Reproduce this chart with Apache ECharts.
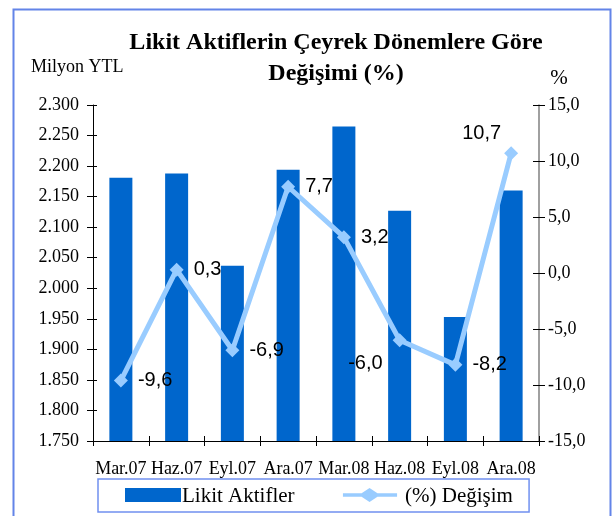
<!DOCTYPE html>
<html>
<head>
<meta charset="utf-8">
<script src="https://cdn.jsdelivr.net/npm/echarts@6/dist/echarts.min.js"></script>
<style>
html,body{margin:0;padding:0;background:#fff;}
#c{width:614px;height:516px;}
</style>
</head>
<body>
<div id="c"></div>
<script>
const categories = ['Mar.07','Haz.07','Eyl.07','Ara.07','Mar.08','Haz.08','Eyl.08','Ara.08'];
const likitAktifler = [2181, 2188, 2037, 2194, 2265, 2127, 1953, 2160];
const degisim = [-9.6, 0.3, -6.9, 7.7, 3.2, -6.0, -8.2, 10.7];
const leftTicks = {min: 1750, max: 2300, interval: 50};
const rightTicks = {min: -15, max: 15, interval: 5};
const titleLines = ['Likit Aktiflerin Çeyrek Dönemlere Göre', 'Değişimi (%)'];
const seriesNames = ['Likit Aktifler', '(%) Değişim'];

const serif = "'Liberation Serif', 'Times New Roman', serif";
const sans = "'Liberation Sans', Arial, sans-serif";
const fmtLeft = v => (v / 1000).toFixed(3);
const fmtRight = v => v.toFixed(1).replace('.', ',');

const labelCfg = {
  '-6,0': {position: 'left', distance: 10, offset: [0, 23]},
  '10,7': {position: 'left', distance: 3, offset: [0, -20]}
};
const lineData = degisim.map(v => {
  const t = fmtRight(v);
  const c = labelCfg[t];
  return c ? {value: v, label: c} : {value: v};
});

const lineIcon = 'path://M0,5.5 L20,5.5 L28.5,0 L37,5.5 L58,5.5 L58,9.5 L37,9.5 L28.5,15 L20,9.5 L0,9.5 Z';
const legendFont = '21px ' + serif;

const chart = echarts.init(document.getElementById('c'), null, {renderer: 'canvas'});
chart.setOption({
  animation: false,
  backgroundColor: '#fff',
  textStyle: {fontFamily: serif, color: '#000'},
  grid: {left: 93, top: 105, width: 446, height: 336},
  graphic: [
    {type: 'rect', shape: {x: 13.5, y: 9.5, width: 597, height: 530}, style: {fill: 'none', stroke: '#6384E8', lineWidth: 2}, silent: true},
    {type: 'text', x: 336, y: 43, style: {text: titleLines[0], font: 'bold 24px ' + serif, fill: '#000', textAlign: 'center', textVerticalAlign: 'middle'}},
    {type: 'text', x: 336, y: 74, style: {text: titleLines[1], font: 'bold 24px ' + serif, fill: '#000', textAlign: 'center', textVerticalAlign: 'middle'}},
    {type: 'text', x: 31, y: 67, style: {text: 'Milyon YTL', font: '18px ' + serif, fill: '#000', textAlign: 'left', textVerticalAlign: 'middle'}},
    {type: 'text', x: 559, y: 78, style: {text: '%', font: '21px ' + serif, fill: '#000', textAlign: 'center', textVerticalAlign: 'middle'}},
    {type: 'text', x: 182, y: 496, z: 100, style: {text: seriesNames[0], font: legendFont, fill: '#000', textAlign: 'left', textVerticalAlign: 'middle'}},
    {type: 'text', x: 405, y: 496, z: 100, style: {text: seriesNames[1], font: legendFont, fill: '#000', textAlign: 'left', textVerticalAlign: 'middle'}}
  ],
  legend: {
    left: 98, top: 479,
    padding: [9, 132, 10, 27],
    itemWidth: 56, itemHeight: 14, itemGap: 161,
    borderColor: '#7090F0', borderWidth: 1.5,
    formatter: () => '',
    textStyle: {fontFamily: serif, fontSize: 20, color: '#000'},
    data: [
      {name: seriesNames[0], icon: 'rect'},
      {name: seriesNames[1], icon: lineIcon}
    ]
  },
  xAxis: [
    {
      type: 'category', data: categories, boundaryGap: true,
      axisLine: {onZero: false, lineStyle: {color: '#000', width: 1}},
      axisTick: {show: true, alignWithLabel: false, length: 5, lineStyle: {color: '#000'}},
      axisLabel: {interval: 0, hideOverlap: false, margin: 19, fontFamily: serif, fontSize: 18, color: '#000'},
      splitLine: {show: false}
    },
    {
      type: 'category', data: categories, boundaryGap: true, position: 'bottom',
      axisLine: {show: false, onZero: false},
      axisTick: {show: true, inside: true, length: 5, lineStyle: {color: '#000'}},
      axisLabel: {show: false}, splitLine: {show: false}
    }
  ],
  yAxis: [
    {
      type: 'value', position: 'left', min: leftTicks.min, max: leftTicks.max, interval: leftTicks.interval,
      axisLine: {show: true, onZero: false, lineStyle: {color: '#000', width: 1}},
      axisTick: {show: true, length: 6, lineStyle: {color: '#000'}},
      axisLabel: {margin: 14, formatter: fmtLeft, fontFamily: serif, fontSize: 18, color: '#000'},
      splitLine: {show: false}
    },
    {
      type: 'value', position: 'right', min: rightTicks.min, max: rightTicks.max, interval: rightTicks.interval,
      axisLine: {show: true, onZero: false, lineStyle: {color: '#808080', width: 1.5}},
      axisTick: {show: true, length: 6, lineStyle: {color: '#000'}},
      axisLabel: {margin: 9, formatter: fmtRight, fontFamily: serif, fontSize: 18, color: '#000'},
      splitLine: {show: false}
    },
    {
      type: 'value', position: 'left', min: leftTicks.min, max: leftTicks.max, interval: leftTicks.interval,
      axisLine: {show: false, onZero: false},
      axisTick: {show: true, inside: true, length: 4, lineStyle: {color: '#000'}},
      axisLabel: {show: false}, splitLine: {show: false}
    },
    {
      type: 'value', position: 'right', min: rightTicks.min, max: rightTicks.max, interval: rightTicks.interval,
      axisLine: {show: false, onZero: false},
      axisTick: {show: true, inside: true, length: 6, lineStyle: {color: '#000'}},
      axisLabel: {show: false}, splitLine: {show: false}
    }
  ],
  series: [
    {
      name: seriesNames[0], type: 'bar', xAxisIndex: 0, yAxisIndex: 0,
      data: likitAktifler, barWidth: 23,
      itemStyle: {color: '#0066CC'}, z: 2
    },
    {
      name: seriesNames[1], type: 'line', xAxisIndex: 0, yAxisIndex: 1,
      data: lineData,
      symbol: 'diamond', symbolSize: 14,
      lineStyle: {color: '#99CCFF', width: 5},
      itemStyle: {color: '#99CCFF'},
      label: {show: true, position: 'right', distance: 10,
        formatter: p => '{v|' + fmtRight(p.value) + '}',
        rich: {v: {fontFamily: sans, fontSize: 20, color: '#000'}}},
      z: 5
    }
  ]
});
</script>
</body>
</html>
